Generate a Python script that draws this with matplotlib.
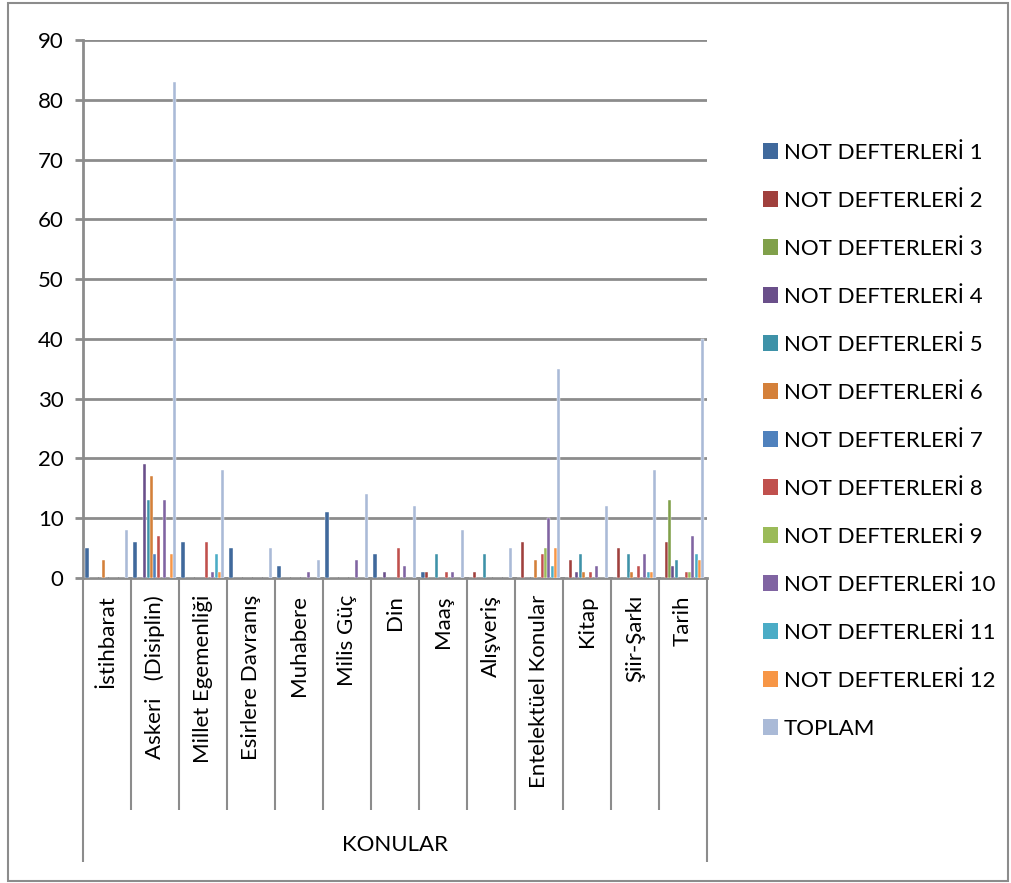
import numpy as np
import matplotlib
matplotlib.use("Agg")
import matplotlib.pyplot as plt
from matplotlib.patches import Rectangle, Patch
import matplotlib.transforms as mtransforms

plt.rcParams['font.family'] = ['Lato', 'DejaVu Sans']

categories = ["İstihbarat", "Askeri   (Disiplin)", "Millet Egemenliği", "Esirlere Davranış",
              "Muhabere", "Milis Güç", "Din", "Maaş", "Alışveriş", "Entelektüel Konular",
              "Kitap", "Şiir-Şarkı", "Tarih"]

series_names = ["NOT DEFTERLERİ %d" % k for k in range(1, 13)] + ["TOPLAM"]

# one row per series, one column per category
nd1 = [5, 6, 6, 5, 2, 11, 4, 1, 0, 0, 0, 0, 0]
nd2 = [0, 0, 0, 0, 0, 0, 0, 1, 1, 6, 3, 5, 6]
nd3 = [0, 0, 0, 0, 0, 0, 0, 0, 0, 0, 0, 0, 13]
nd4 = [0, 19, 0, 0, 0, 0, 1, 0, 0, 0, 1, 0, 2]
nd5 = [0, 13, 0, 0, 0, 0, 0, 4, 4, 0, 4, 4, 3]
nd6 = [3, 17, 0, 0, 0, 0, 0, 0, 0, 3, 1, 1, 0]
nd7 = [0, 4, 0, 0, 0, 0, 0, 0, 0, 0, 0, 0, 0]
nd8 = [0, 7, 6, 0, 0, 0, 5, 1, 0, 4, 1, 2, 1]
nd9 = [0, 0, 0, 0, 0, 0, 0, 0, 0, 5, 0, 0, 1]
nd10 = [0, 13, 1, 0, 1, 3, 2, 1, 0, 10, 2, 4, 7]
nd11 = [0, 0, 4, 0, 0, 0, 0, 0, 0, 2, 0, 1, 4]
nd12 = [0, 4, 1, 0, 0, 0, 0, 0, 0, 5, 0, 1, 3]
toplam = [8, 83, 18, 5, 3, 14, 12, 8, 5, 35, 12, 18, 40]

values = [nd1, nd2, nd3, nd4, nd5, nd6, nd7, nd8, nd9, nd10, nd11, nd12, toplam]

colors = ['#40699C', '#A0403D', '#80A04A', '#6A4F8A', '#3E92A8', '#D4803A',
          '#4F81BD', '#C0504D', '#9BBB59', '#8064A2', '#4BACC6', '#F79646', '#AABAD7']

W, H = 1012, 883
fig = plt.figure(figsize=(W / 100, H / 100), dpi=100)

# chart border
fig.patches.append(Rectangle((8 / W, 2 / H), 1000 / W, 878 / H, transform=fig.transFigure,
                             fill=False, edgecolor='#8C8C8C', linewidth=1.5))

ax = fig.add_axes([83 / W, 1 - 578 / H, (707 - 83) / W, (578 - 40) / H])

n = len(values)
w = 1 / (n + 1.5)
x = np.arange(len(categories))
for j in range(n):
    ax.bar(x + 0.75 * w + j * w, values[j], width=w * 0.92, align='edge',
           color=colors[j], edgecolor='white', linewidth=0.3, zorder=3)

ax.set_xlim(0, len(categories))
ax.set_ylim(0, 90)
ax.set_yticks(range(0, 91, 10))
ax.yaxis.grid(True, color='#8C8C8C', linewidth=2)
ax.set_axisbelow(True)
ax.tick_params(axis='y', length=6, width=2, color='#8C8C8C', labelsize=16, pad=8)
ax.set_xticks([])
for s in ['top', 'right']:
    ax.spines[s].set_visible(False)
for s in ['left', 'bottom']:
    ax.spines[s].set_color('#8C8C8C')
    ax.spines[s].set_linewidth(2)

trans = mtransforms.blended_transform_factory(ax.transData, ax.transAxes)
ph = 578 - 40
for i, c in enumerate(categories):
    ax.text(i + 0.5, -17 / ph, c, rotation=90, ha='center', va='top',
            fontsize=16, transform=trans)
ax.vlines(np.arange(1, len(categories)), -(810 - 578) / ph, 0, transform=trans,
          color='#8C8C8C', linewidth=1.5, clip_on=False)
ax.vlines([0, len(categories)], -(862 - 578) / ph, 0, transform=trans,
          color='#8C8C8C', linewidth=1.5, clip_on=False)
ax.text(len(categories) / 2, -(845 - 578) / ph, "KONULAR", ha='center', va='center',
        fontsize=16, transform=trans)

handles = [Patch(facecolor=colors[j], label=series_names[j]) for j in range(n)]
fig.legend(handles=handles, loc='upper left', bbox_to_anchor=(754 / W, 1 - 134 / H),
           frameon=False, fontsize=16, handlelength=0.68, handleheight=0.68,
           handletextpad=0.25, labelspacing=1.26, borderaxespad=0)

fig.savefig("out.png", dpi=100)
